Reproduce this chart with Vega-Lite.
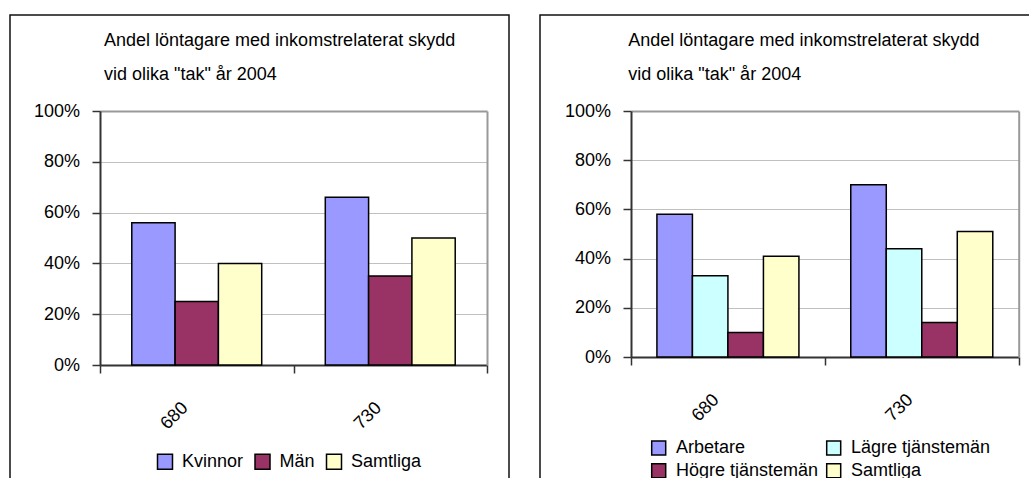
{
  "$schema": "https://vega.github.io/schema/vega-lite/v6.json",
  "padding": {"left": 2, "top": 14, "right": 0, "bottom": 0},
  "spacing": 22,
  "config": {
    "font": "Liberation Sans",
    "view": {"stroke": "#111111", "strokeWidth": 1.5},
    "bar": {"stroke": "#000000", "strokeWidth": 1.5},
    "axis": {
      "labelFont": "Liberation Sans",
      "labelFontSize": 18,
      "labelColor": "#000000",
      "domainColor": "#333333",
      "domainWidth": 2,
      "tickColor": "#333333",
      "tickWidth": 1.5,
      "tickSize": 8,
      "title": null
    },
    "title": {
      "anchor": "start",
      "frame": "group",
      "offset": -36,
      "baseline": "alphabetic",
      "dy": 33,
      "font": "Liberation Sans",
      "fontSize": 18,
      "fontWeight": "normal",
      "lineHeight": 34,
      "color": "#000000"
    },
    "legend": {
      "padding": 0,
      "labelFont": "Liberation Sans",
      "labelFontSize": 18,
      "labelColor": "#000000",
      "symbolType": "square",
      "symbolStrokeColor": "#000000",
      "symbolStrokeWidth": 1.5,
      "symbolOpacity": 1,
      "rowPadding": 2.7
    }
  },
  "datasets": {
    "kon": [
      {"tak": "680", "grupp": "Kvinnor", "andel": 0.56},
      {"tak": "680", "grupp": "Män", "andel": 0.25},
      {"tak": "680", "grupp": "Samtliga", "andel": 0.40},
      {"tak": "730", "grupp": "Kvinnor", "andel": 0.66},
      {"tak": "730", "grupp": "Män", "andel": 0.35},
      {"tak": "730", "grupp": "Samtliga", "andel": 0.50}
    ],
    "yrke": [
      {"tak": "680", "grupp": "Arbetare", "andel": 0.58},
      {"tak": "680", "grupp": "Lägre tjänstemän", "andel": 0.33},
      {"tak": "680", "grupp": "Högre tjänstemän", "andel": 0.10},
      {"tak": "680", "grupp": "Samtliga", "andel": 0.41},
      {"tak": "730", "grupp": "Arbetare", "andel": 0.70},
      {"tak": "730", "grupp": "Lägre tjänstemän", "andel": 0.44},
      {"tak": "730", "grupp": "Högre tjänstemän", "andel": 0.14},
      {"tak": "730", "grupp": "Samtliga", "andel": 0.51}
    ]
  },
  "hconcat": [
    {
      "width": 499,
      "height": 470,
      "data": {"name": "kon"},
      "title": {"text": ["Andel löntagare med inkomstrelaterat skydd", "vid olika \"tak\" år 2004"], "dx": 94},
      "encoding": {
        "y": {
          "field": "andel", "type": "quantitative",
          "scale": {"domain": [0, 1], "range": [350, 96], "nice": false},
          "axis": {
            "offset": -90, "format": ".0%", "values": [0, 0.2, 0.4, 0.6, 0.8, 1], "labelPadding": 12.5,
            "grid": true,
            "gridColor": {"condition": {"test": "datum.value === 1", "value": "#999999"}, "value": "#c0c0c0"},
            "gridWidth": {"condition": {"test": "datum.value === 1", "value": 2}, "value": 1}
          }
        }
      },
      "layer": [
        {
          "mark": "bar",
          "encoding": {
            "x": {
              "field": "tak", "type": "nominal",
              "scale": {"range": [90, 477], "paddingInner": 0, "paddingOuter": 0},
              "axis": {
                "offset": -120, "labelAngle": -45, "labelAlign": "right", "labelBaseline": "middle",
                "labelPadding": 32, "labelOffset": -12, "tickBand": "extent", "grid": false
              }
            },
            "xOffset": {"field": "grupp", "type": "nominal", "scale": {"domain": ["Kvinnor", "Män", "Samtliga"], "paddingInner": 0, "paddingOuter": 0.734}},
            "color": {
              "field": "grupp", "type": "nominal",
              "scale": {"domain": ["Kvinnor", "Män", "Samtliga"], "range": ["#9999FF", "#993366", "#FFFFCC"]},
              "legend": {"title": null, "orient": "none", "legendX": 146, "legendY": 437.5, "direction": "horizontal", "columns": 3, "columnPadding": 7.5, "labelOffset": 8, "symbolSize": 225}
            }
          }
        },
        {
          "mark": {"type": "rule", "opacity": 0},
          "encoding": {
            "y": {
              "field": "andel", "type": "quantitative",
              "axis": {"orient": "right", "offset": -22, "domainColor": "#999999", "domainWidth": 2, "ticks": false, "labels": false, "grid": false}
            }
          }
        }
      ],
      "resolve": {"axis": {"y": "independent"}}
    },
    {
      "width": 499,
      "height": 470,
      "data": {"name": "yrke"},
      "title": {"text": ["Andel löntagare med inkomstrelaterat skydd", "vid olika \"tak\" år 2004"], "dx": 88.3},
      "encoding": {
        "y": {
          "field": "andel", "type": "quantitative",
          "scale": {"domain": [0, 1], "range": [342, 96], "nice": false},
          "axis": {
            "offset": -91, "format": ".0%", "values": [0, 0.2, 0.4, 0.6, 0.8, 1], "labelPadding": 12.5,
            "grid": true,
            "gridColor": {"condition": {"test": "datum.value === 1", "value": "#999999"}, "value": "#c0c0c0"},
            "gridWidth": {"condition": {"test": "datum.value === 1", "value": 2}, "value": 1}
          }
        }
      },
      "layer": [
        {
          "mark": "bar",
          "encoding": {
            "x": {
              "field": "tak", "type": "nominal",
              "scale": {"range": [91, 478.7], "paddingInner": 0, "paddingOuter": 0},
              "axis": {
                "offset": -128, "labelAngle": -45, "labelAlign": "right", "labelBaseline": "middle",
                "labelPadding": 32, "labelOffset": -12, "tickBand": "extent", "grid": false
              }
            },
            "xOffset": {"field": "grupp", "type": "nominal", "scale": {"domain": ["Arbetare", "Lägre tjänstemän", "Högre tjänstemän", "Samtliga"], "paddingInner": 0, "paddingOuter": 0.73}},
            "color": {
              "field": "grupp", "type": "nominal",
              "scale": {"domain": ["Arbetare", "Lägre tjänstemän", "Högre tjänstemän", "Samtliga"], "range": ["#9999FF", "#CCFFFF", "#993366", "#FFFFCC"]},
              "legend": {"title": null, "orient": "none", "legendX": 109.7, "legendY": 424, "direction": "horizontal", "columns": 2, "columnPadding": 5, "labelOffset": 8.3, "symbolSize": 196}
            }
          }
        },
        {
          "mark": {"type": "rule", "opacity": 0},
          "encoding": {
            "y": {
              "field": "andel", "type": "quantitative",
              "axis": {"orient": "right", "offset": -20.3, "domainColor": "#999999", "domainWidth": 2, "ticks": false, "labels": false, "grid": false}
            }
          }
        }
      ],
      "resolve": {"axis": {"y": "independent"}}
    }
  ],
  "resolve": {"scale": {"color": "independent", "x": "independent", "y": "independent", "xOffset": "independent"}}
}
